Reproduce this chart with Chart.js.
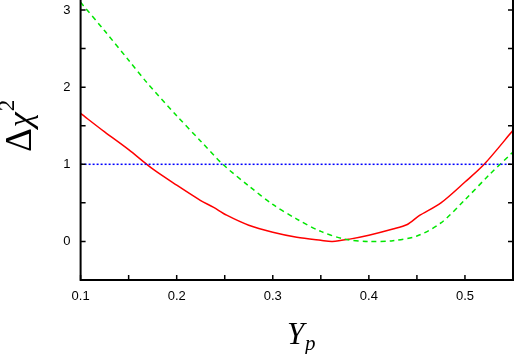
<!DOCTYPE html>
<html>
<head>
<meta charset="utf-8">
<script src="https://cdn.jsdelivr.net/npm/chart.js@4"></script>
<style>
  body { margin: 0; background: #fff; }
  #wrap { width: 515px; height: 354px; }
</style>
</head>
<body>
<div id="wrap"><canvas id="myChart" width="515" height="354"></canvas></div>
<script>
"use strict";

//////// data
const redX = [0.1, 0.125, 0.15, 0.175, 0.2, 0.225, 0.238, 0.252, 0.275, 0.3, 0.325, 0.35, 0.362, 0.38, 0.4, 0.425, 0.44, 0.452, 0.475, 0.5, 0.52, 0.55];
const redY = [1.66, 1.42, 1.19, 0.94, 0.73, 0.53, 0.445, 0.34, 0.21, 0.12, 0.055, 0.015, 0.0, 0.03, 0.08, 0.16, 0.22, 0.33, 0.5, 0.77, 1.0, 1.44];
const greenX = [0.1, 0.125, 0.15, 0.169, 0.2, 0.225, 0.248, 0.275, 0.3, 0.325, 0.35, 0.375, 0.4, 0.425, 0.45, 0.475, 0.5, 0.525, 0.55];
const greenY = [3.1, 2.73, 2.35, 2.06, 1.63, 1.3, 1.0, 0.72, 0.48, 0.29, 0.13, 0.03, 0.0, 0.01, 0.07, 0.24, 0.54, 0.86, 1.16];
const refX = [0.1, 0.55];
const refY = [1, 1];
const xTicks = [0.1, 0.15, 0.2, 0.25, 0.3, 0.35, 0.4, 0.45, 0.5, 0.55];
const yTicks = [-0.5, 0, 0.5, 1, 1.5, 2, 2.5, 3];

const pts = (xs, ys) => xs.map((x, i) => ({ x: x, y: ys[i] }));

// axis frame with inward ticks + axis titles
const framePlugin = {
  id: "frame",
  afterDraw(chart) {
    const c = chart.ctx;
    const a = chart.chartArea;
    const xs = chart.scales.x;
    const ys = chart.scales.y;
    c.save();
    c.strokeStyle = "#000";
    c.lineWidth = 2;
    c.beginPath();
    c.moveTo(a.left, a.top);
    c.lineTo(a.left, a.bottom);
    c.lineTo(a.right, a.bottom);
    c.lineTo(a.right, a.top);
    c.stroke();
    c.lineWidth = 1.5;
    c.beginPath();
    xTicks.forEach((v) => {
      const px = xs.getPixelForValue(v);
      c.moveTo(px, a.bottom);
      c.lineTo(px, a.bottom - 5);
    });
    yTicks.forEach((v) => {
      const py = ys.getPixelForValue(v);
      c.moveTo(a.left, py);
      c.lineTo(a.left + 5, py);
      c.moveTo(a.right, py);
      c.lineTo(a.right - 5, py);
    });
    c.stroke();

    // x title  Y_p
    c.fillStyle = "#000";
    c.textBaseline = "alphabetic";
    c.textAlign = "left";
    c.font = "italic 31px 'Liberation Serif'";
    c.fillText("Y", 287, 344);
    c.font = "italic 21px 'Liberation Serif'";
    c.fillText("p", 305, 350);

    // y title  Δχ²
    c.translate(31, 152);
    c.rotate(-Math.PI / 2);
    c.font = "37px 'Liberation Serif'";
    c.fillText("Δ", 0, 0);
    let w = c.measureText("Δ").width;
    c.font = "italic 34px 'Liberation Serif'";
    c.fillText("χ", w + 1, 0);
    w += c.measureText("χ").width + 2;
    c.font = "23px 'Liberation Serif'";
    c.fillText("2", w, -17);
    c.restore();
  },
};

new Chart(document.getElementById("myChart"), {
  type: "line",
  data: {
    datasets: [
      {
        data: pts(refX, refY),
        borderColor: "#0000ff",
        borderWidth: 1.5,
        borderDash: [2, 2],
        pointRadius: 0,
      },
      {
        data: pts(greenX, greenY),
        borderColor: "#00e600",
        borderWidth: 1.5,
        borderDash: [5, 4],
        pointRadius: 0,
        tension: 0.3,
      },
      {
        data: pts(redX, redY),
        borderColor: "#ff0000",
        borderWidth: 1.5,
        pointRadius: 0,
        tension: 0.3,
      },
    ],
  },
  options: {
    responsive: false,
    animation: false,
    devicePixelRatio: 1,
    layout: { padding: { top: 0, right: 2, left: 0, bottom: 0 } },
    plugins: { legend: { display: false }, tooltip: { enabled: false } },
    scales: {
      x: {
        type: "linear",
        min: 0.1,
        max: 0.55,
        border: { display: false },
        grid: { display: false, drawTicks: false },
        afterBuildTicks: (s) => {
          s.ticks = xTicks.map((v) => ({ value: v }));
        },
        afterFit: (s) => {
          s.height = 74;
          s.paddingLeft = 0;
          s.paddingRight = 0;
        },
        ticks: {
          padding: 9,
          color: "#000",
          font: { family: "'Liberation Sans'", size: 13 },
          maxRotation: 0,
          autoSkip: false,
          callback: (v) => {
            const k = Math.round(v * 100);
            return k % 10 === 0 ? (k / 100).toFixed(1) : "";
          },
        },
      },
      y: {
        min: -0.5,
        max: 3.13,
        border: { display: false },
        grid: { display: false, drawTicks: false },
        afterBuildTicks: (s) => {
          s.ticks = yTicks.map((v) => ({ value: v }));
        },
        afterFit: (s) => {
          s.width = 80.6;
          s.paddingTop = 0;
          s.paddingBottom = 0;
        },
        ticks: {
          padding: 10,
          color: "#000",
          font: { family: "'Liberation Sans'", size: 13 },
          autoSkip: false,
          callback: (v) => (Number.isInteger(v) ? String(v) : ""),
        },
      },
    },
  },
  plugins: [framePlugin],
});
</script>
</body>
</html>
